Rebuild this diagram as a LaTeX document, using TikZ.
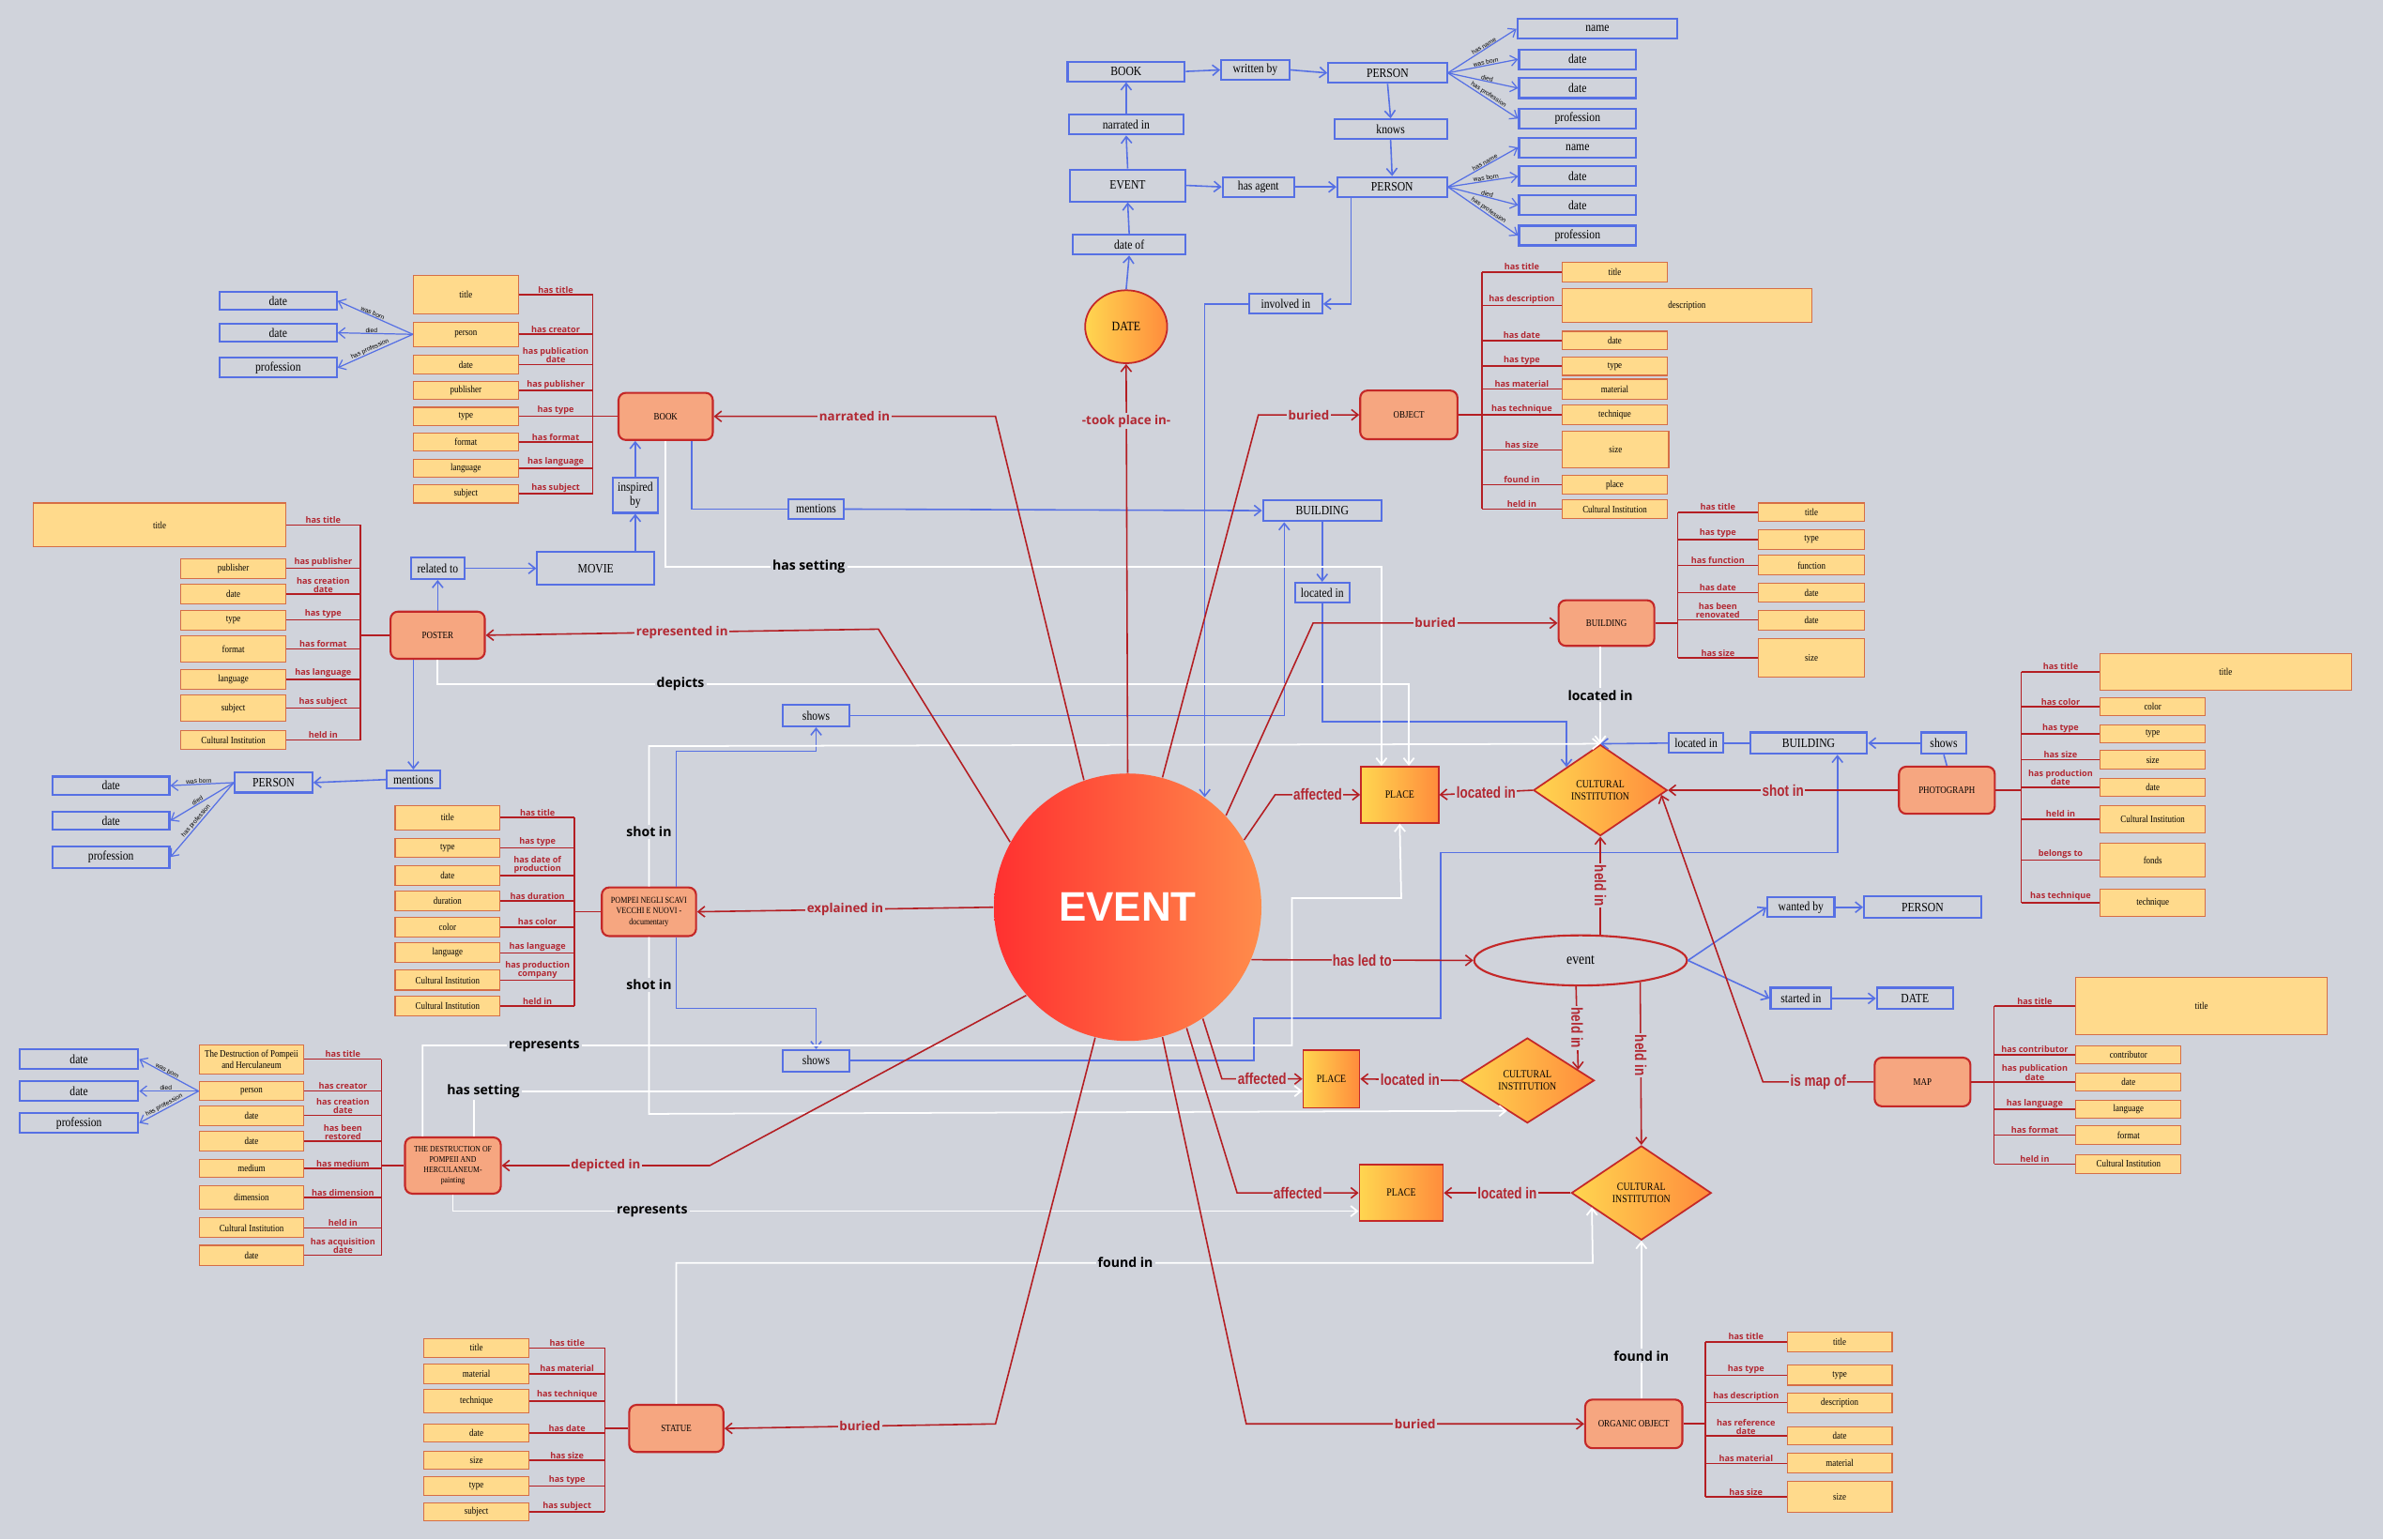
\documentclass[tikz,border=0pt]{standalone}
\usepackage{fontspec}
\setmainfont{Liberation Serif}[FakeStretch=0.85]
\newfontfamily\labf{Open Sans}
\newfontfamily\narf{Liberation Sans}[FakeStretch=0.8]
\newfontfamily\sansf{Liberation Sans}
\usetikzlibrary{shapes.geometric,arrows.meta,calc}
\newlength\uu \setlength\uu{0.016193cm}
\definecolor{bgc}{RGB}{208,211,219}
\definecolor{bluec}{RGB}{86,112,228}
\definecolor{attf}{RGB}{255,218,140}
\definecolor{attd}{RGB}{214,110,70}
\definecolor{entf}{RGB}{246,166,128}
\definecolor{entd}{RGB}{196,40,40}
\definecolor{redl}{RGB}{180,30,35}
\definecolor{labc}{RGB}{178,40,50}
\definecolor{gy}{RGB}{255,214,80}
\definecolor{go}{RGB}{255,140,60}
\definecolor{er}{RGB}{255,48,48}
\definecolor{eo}{RGB}{255,140,75}
\tikzset{
 blu/.style={draw=bluec,line width=0.6pt,inner sep=0pt,align=center,font=\fontsize{3.9}{4.3}\selectfont},
 att/.style={draw=attd,fill=attf,line width=0.3pt,inner sep=0pt,align=center,font=\fontsize{3}{3.3}\selectfont},
 ent/.style={draw=entd,fill=entf,line width=0.6pt,rounded corners=2.2pt,inner sep=0pt,align=center,font=\fontsize{3}{3.5}\selectfont},
 grad/.style={draw=entd,line width=0.5pt,left color=gy,right color=go,inner sep=0pt,align=center,font=\fontsize{3.3}{3.7}\selectfont},
 rl/.style={draw=redl,line width=0.45pt},
 rar/.style={rl,-{Straight Barb[length=2pt,width=3.2pt]}},
 bl/.style={draw=bluec,line width=0.45pt},
 barr/.style={bl,-{Straight Barb[length=2pt,width=3.2pt]}},
 wl/.style={draw=white,line width=0.5pt},
 war/.style={wl,-{Straight Barb[length=2pt,width=3.2pt]}},
 alab/.style={font=\labf\bfseries\fontsize{2.6}{2.6}\selectfont,text=labc,align=center,inner sep=0.3pt,anchor=south},
 rlab/.style={font=\labf\bfseries\fontsize{3.8}{4}\selectfont,text=labc,fill=bgc,inner sep=0.5pt},
 nlab/.style={font=\narf\bfseries\fontsize{4.8}{5}\selectfont,text=labc,fill=bgc,inner sep=0.4pt},
 wlab/.style={font=\labf\bfseries\fontsize{4}{4.2}\selectfont,text=black,fill=bgc,inner sep=0.6pt},
 flab/.style={font=\sansf\fontsize{1.9}{2}\selectfont,sloped,above,inner sep=0.1pt,pos=0.55},
}
\begin{document}
\begin{tikzpicture}[x=0.016193cm,y=-0.016193cm]
\fill[bgc] (0,0) rectangle (1568,1013);
\useasboundingbox (0,0) rectangle (1568,1013);

% ---------- central nodes ----------
\node[circle,minimum size=176\uu,left color=er,right color=eo,inner sep=0pt,text=white,font=\sansf\bfseries\fontsize{12.5}{12.5}\selectfont] (ev) at (742,597) {EVENT};
\node[ellipse,grad,minimum width=54\uu,minimum height=48\uu,font=\fontsize{4}{4}\selectfont] (dt) at (741,215) {DATE};
\node[grad,minimum width=51\uu,minimum height=37\uu] (pl1) at (921,523) {PLACE};
\node[grad,minimum width=37\uu,minimum height=38\uu] (pl2) at (876,710) {PLACE};
\node[grad,minimum width=55\uu,minimum height=37\uu] (pl3) at (922,785) {PLACE};
\node[grad,diamond,shape aspect=1.47,minimum width=88\uu,minimum height=60\uu] (ci1) at (1053,520) {CULTURAL\\INSTITUTION};
\node[grad,diamond,shape aspect=1.57,minimum width=88\uu,minimum height=56\uu] (ci2) at (1005,711) {CULTURAL\\INSTITUTION};
\node[grad,diamond,shape aspect=1.48,minimum width=92\uu,minimum height=62\uu] (ci3) at (1080,785) {CULTURAL\\INSTITUTION};
\node[ellipse,draw=entd,line width=0.6pt,minimum width=140\uu,minimum height=33\uu,inner sep=0pt,font=\fontsize{4.6}{5}\selectfont] (evt) at (1040,632) {event};

% ---------- entities ----------
\node[ent,minimum width=62\uu,minimum height=31\uu] (bk) at (438,274) {BOOK};
\node[ent,minimum width=62\uu,minimum height=31\uu] (ps) at (288,418) {POSTER};
\node[ent,minimum width=62\uu,minimum height=32\uu,font=\fontsize{2.7}{3.3}\selectfont] (doc) at (427,600) {POMPEI NEGLI SCAVI\\VECCHI E NUOVI -\\documentary};
\node[ent,minimum width=63\uu,minimum height=37\uu,font=\fontsize{2.6}{3.2}\selectfont] (pt) at (298,767) {THE DESTRUCTION OF\\POMPEII AND\\HERCULANEUM-\\painting};
\node[ent,minimum width=62\uu,minimum height=31\uu] (st) at (445,940) {STATUE};
\node[ent,minimum width=64\uu,minimum height=32\uu] (obj) at (927,273) {OBJECT};
\node[ent,minimum width=63\uu,minimum height=30\uu] (bld3) at (1057,410) {BUILDING};
\node[ent,minimum width=63\uu,minimum height=31\uu] (ph) at (1281,520) {PHOTOGRAPH};
\node[ent,minimum width=63\uu,minimum height=32\uu] (mp) at (1265,712) {MAP};
\node[ent,minimum width=64\uu,minimum height=32\uu] (org) at (1075,937) {ORGANIC OBJECT};

% ---------- blue nodes ----------
\node[blu,minimum width=77\uu,minimum height=13\uu] (b1) at (741,47) {BOOK};
\node[blu,minimum width=45\uu,minimum height=13\uu] (wb1) at (826,46) {written by};
\node[blu,minimum width=78\uu,minimum height=13\uu] (p1) at (913,48) {PERSON};
\node[blu,minimum width=74\uu,minimum height=13\uu] (k) at (915,85) {knows};
\node[blu,minimum width=75\uu,minimum height=13\uu] (na) at (741,82) {narrated in};
\node[blu,minimum width=76\uu,minimum height=21\uu] (e1) at (742,122) {EVENT};
\node[blu,minimum width=47\uu,minimum height=13\uu] (ha) at (828,123) {has agent};
\node[blu,minimum width=72\uu,minimum height=13\uu] (p2) at (916,123) {PERSON};
\node[blu,minimum width=74\uu,minimum height=13\uu] (do) at (743,161) {date of};
\node[blu,minimum width=48\uu,minimum height=13\uu] (inv) at (846,200) {involved in};
\node[blu,minimum width=105\uu,minimum height=13\uu] (n1) at (1051,19) {name};
\node[blu,minimum width=77\uu,minimum height=13\uu] (d1) at (1038,39) {date};
\node[blu,minimum width=77\uu,minimum height=13\uu] (d2) at (1038,58) {date};
\node[blu,minimum width=77\uu,minimum height=13\uu] (pf1) at (1038,78) {profession};
\node[blu,minimum width=77\uu,minimum height=13\uu] (n2) at (1038,97) {name};
\node[blu,minimum width=77\uu,minimum height=13\uu] (d3) at (1038,116) {date};
\node[blu,minimum width=77\uu,minimum height=13\uu] (d4) at (1038,135) {date};
\node[blu,minimum width=77\uu,minimum height=13\uu] (pf2) at (1038,155) {profession};
\node[blu,minimum width=77\uu,minimum height=12\uu] (bd1) at (183,198) {date};
\node[blu,minimum width=77\uu,minimum height=12\uu] (bd2) at (183,219) {date};
\node[blu,minimum width=77\uu,minimum height=13\uu] (bpf) at (183,242) {profession};
\node[blu,minimum width=30\uu,minimum height=23\uu] (ib) at (418,326) {inspired\\by};
\node[blu,minimum width=77\uu,minimum height=22\uu] (mv) at (392,374) {MOVIE};
\node[blu,minimum width=35\uu,minimum height=14\uu] (rt) at (288,374) {related to};
\node[blu,minimum width=35\uu,minimum height=12\uu] (mn2) at (272,513) {mentions};
\node[blu,minimum width=51\uu,minimum height=13\uu] (pp) at (180,515) {PERSON};
\node[blu,minimum width=77\uu,minimum height=12\uu] (pd1) at (73,517) {date};
\node[blu,minimum width=77\uu,minimum height=12\uu] (pd2) at (73,540) {date};
\node[blu,minimum width=77\uu,minimum height=14\uu] (ppf) at (73,564) {profession};
\node[blu,minimum width=36\uu,minimum height=13\uu] (mn1) at (537,335) {mentions};
\node[blu,minimum width=78\uu,minimum height=14\uu] (bld) at (870,336) {BUILDING};
\node[blu,minimum width=36\uu,minimum height=13\uu] (li1) at (870,390) {located in};
\node[blu,minimum width=44\uu,minimum height=14\uu] (sh1) at (537,471) {shows};
\node[blu,minimum width=44\uu,minimum height=14\uu] (sh2) at (537,698) {shows};
\node[blu,minimum width=36\uu,minimum height=13\uu] (li2) at (1116,489) {located in};
\node[blu,minimum width=77\uu,minimum height=14\uu] (bld2) at (1190,489) {BUILDING};
\node[blu,minimum width=30\uu,minimum height=14\uu] (sh3) at (1279,489) {shows};
\node[blu,minimum width=44\uu,minimum height=13\uu] (wb) at (1185,597) {wanted by};
\node[blu,minimum width=77\uu,minimum height=14\uu] (p3) at (1265,597) {PERSON};
\node[blu,minimum width=40\uu,minimum height=14\uu] (si) at (1185,657) {started in};
\node[blu,minimum width=50\uu,minimum height=14\uu] (d5) at (1260,657) {DATE};
\node[blu,minimum width=78\uu,minimum height=13\uu] (td1) at (52,697) {date};
\node[blu,minimum width=78\uu,minimum height=13\uu] (td2) at (52,718) {date};
\node[blu,minimum width=78\uu,minimum height=13\uu] (tpf) at (52,739) {profession};

% ---------- attribute groups ----------
\coordinate (bkbar) at (390,0);
\foreach \i/\cx/\w/\y/\h/\tx/\lb in {
1/306.5/69/194/25/title/has title,
2/306.5/69/220/16/person/has creator,
3/306.5/69/240/12/date/{has publication\\date},
4/306.5/69/257/12/publisher/has publisher,
5/306.5/69/274/12/type/has type,
6/306.5/69/291/12/format/has format,
7/306.5/69/308/12/language/has language,
8/306.5/69/325/12/subject/has subject}{
\node[att,minimum width=\w\uu,minimum height=\h\uu] (bka\i) at (\cx,\y) {\tx};
\draw[rl] (bka\i.east) -- node[alab]{\lb} (bka\i.east -| bkbar);}
\draw[rl] (bka1.east -| bkbar) -- (bka8.east -| bkbar);
\draw[rl] (bk.west) -- (bk.west -| bkbar);

\coordinate (psbar) at (237,0);
\foreach \i/\cx/\w/\y/\h/\tx/\lb in {
1/105/166/345.5/29/title/has title,
2/153.5/69/374/13/publisher/has publisher,
3/153.5/69/391/13/date/{has creation\\date},
4/153.5/69/408/13/type/has type,
5/153.5/69/427/17/format/has format,
6/153.5/69/447/13/language/has language,
7/153.5/69/466/17/subject/has subject,
8/153.5/69/487/12/Cultural Institution/held in}{
\node[att,minimum width=\w\uu,minimum height=\h\uu] (psa\i) at (\cx,\y) {\tx};
\draw[rl] (psa\i.east) -- node[alab]{\lb} (psa\i.east -| psbar);}
\draw[rl] (psa1.east -| psbar) -- (psa8.east -| psbar);
\draw[rl] (ps.west) -- (ps.west -| psbar);

\coordinate (docbar) at (378,0);
\foreach \i/\y/\h/\tx/\lb in {
1/538/16/title/has title,
2/558/12/type/has type,
3/576/13/date/{has date of\\production},
4/593/13/duration/has duration,
5/610/13/color/has color,
6/627/13/language/has language,
7/645/13/Cultural Institution/{has production\\company},
8/662/13/Cultural Institution/held in}{
\node[att,minimum width=69\uu,minimum height=\h\uu] (dca\i) at (294.5,\y) {\tx};
\draw[rl] (dca\i.east) -- node[alab]{\lb} (dca\i.east -| docbar);}
\draw[rl] (dca1.east -| docbar) -- (dca8.east -| docbar);
\draw[rl] (doc.west) -- (doc.west -| docbar);

\coordinate (ptbar) at (251,0);
\foreach \i/\y/\h/\tx/\lb in {
1/697/19/{The Destruction of Pompeii\\and Herculaneum}/has title,
2/718/12/person/has creator,
3/734/13/date/{has creation\\date},
4/751/13/date/{has been\\restored},
5/769/12/medium/has medium,
6/788/15/dimension/has dimension,
7/808/13/Cultural Institution/held in,
8/826/13/date/{has acquisition\\date}}{
\node[att,minimum width=69\uu,minimum height=\h\uu] (pta\i) at (165.5,\y) {\tx};
\draw[rl] (pta\i.east) -- node[alab]{\lb} (pta\i.east -| ptbar);}
\draw[rl] (pta1.east -| ptbar) -- (pta8.east -| ptbar);
\draw[rl] (pt.west) -- (pt.west -| ptbar);

\coordinate (stbar) at (398,0);
\foreach \i/\y/\h/\tx/\lb in {
1/887/12/title/has title,
2/904/13/material/has material,
3/922/16/technique/has technique,
4/943/12/date/has date,
5/961/12/size/has size,
6/978/12/type/has type,
7/995/12/subject/has subject}{
\node[att,minimum width=69\uu,minimum height=\h\uu] (sta\i) at (313.5,\y) {\tx};
\draw[rl] (sta\i.east) -- node[alab]{\lb} (sta\i.east -| stbar);}
\draw[rl] (sta1.east -| stbar) -- (sta7.east -| stbar);
\draw[rl] (st.west) -- (st.west -| stbar);

\coordinate (objbar) at (975,0);
\foreach \i/\cx/\w/\y/\h/\tx/\lb in {
1/1062.5/69/179/13/title/has title,
2/1110/164/201/22/description/has description,
3/1062.5/69/224/12/date/has date,
4/1062.5/69/241/12/type/has type,
5/1062.5/69/256/13/material/has material,
6/1062.5/69/273/13/technique/has technique,
7/1063/70/296/24/size/has size,
8/1062.5/69/319/12/place/found in,
9/1062.5/69/335/12/Cultural Institution/held in}{
\node[att,minimum width=\w\uu,minimum height=\h\uu] (oba\i) at (\cx,\y) {\tx};
\draw[rl] (oba\i.west -| objbar) -- node[alab]{\lb} (oba\i.west);}
\draw[rl] (oba1.west -| objbar) -- (oba9.west -| objbar);
\draw[rl] (obj.east) -- (obj.east -| objbar);

\coordinate (bdbar) at (1104,0);
\foreach \i/\y/\h/\tx/\lb in {
1/337/12/title/has title,
2/355/13/type/has type,
3/372/13/function/has function,
4/390/12/date/has date,
5/408/13/date/{has been\\renovated},
6/433/25/size/has size}{
\node[att,minimum width=70\uu,minimum height=\h\uu] (bda\i) at (1192,\y) {\tx};
\draw[rl] (bda\i.west -| bdbar) -- node[alab]{\lb} (bda\i.west);}
\draw[rl] (bda1.west -| bdbar) -- (bda6.west -| bdbar);
\draw[rl] (bld3.east) -- (bld3.east -| bdbar);

\coordinate (phbar) at (1330,0);
\foreach \i/\cx/\w/\y/\h/\tx/\lb in {
1/1464.5/165/442/24/title/has title,
2/1416.5/69/465/12/color/has color,
3/1416.5/69/483/12/type/has type,
4/1416.5/69/500/12/size/has size,
5/1416.5/69/518/12/date/{has production\\date},
6/1416.5/69/539/18/Cultural Institution/held in,
7/1416.5/69/566/22/fonds/belongs to,
8/1416.5/69/594/18/technique/has technique}{
\node[att,minimum width=\w\uu,minimum height=\h\uu] (pha\i) at (\cx,\y) {\tx};
\draw[rl] (pha\i.west -| phbar) -- node[alab]{\lb} (pha\i.west);}
\draw[rl] (pha1.west -| phbar) -- (pha8.west -| phbar);
\draw[rl] (ph.east) -- (ph.east -| phbar);

\coordinate (mpbar) at (1312,0);
\foreach \i/\cx/\w/\y/\h/\tx/\lb in {
1/1448.5/165/662/38/title/has title,
2/1400.5/69/694/12/contributor/has contributor,
3/1400.5/69/712/12/date/{has publication\\date},
4/1400.5/69/730/12/language/has language,
5/1400.5/69/747/12/format/has format,
6/1400.5/69/766/12/Cultural Institution/held in}{
\node[att,minimum width=\w\uu,minimum height=\h\uu] (mpa\i) at (\cx,\y) {\tx};
\draw[rl] (mpa\i.west -| mpbar) -- node[alab]{\lb} (mpa\i.west);}
\draw[rl] (mpa1.west -| mpbar) -- (mpa6.west -| mpbar);
\draw[rl] (mp.east) -- (mp.east -| mpbar);

\coordinate (orbar) at (1122,0);
\foreach \i/\y/\h/\tx/\lb in {
1/883/13/title/has title,
2/905/13/type/has type,
3/923/13/description/has description,
4/945/12/date/{has reference\\date},
5/963/13/material/has material,
6/985/20/size/has size}{
\node[att,minimum width=69\uu,minimum height=\h\uu] (ora\i) at (1210.5,\y) {\tx};
\draw[rl] (ora\i.west -| orbar) -- node[alab]{\lb} (ora\i.west);}
\draw[rl] (ora1.west -| orbar) -- (ora6.west -| orbar);
\draw[rl] (org.east) -- (org.east -| orbar);

% ---------- blue connectors ----------
\draw[barr] (b1.east) -- (wb1.west);
\draw[barr] (wb1.east) -- (p1.west);
\draw[barr] (p1.south) -- (k.north);
\draw[barr] (k.south) -- (p2.north);
\draw[barr] (na.north) -- (b1.south);
\draw[barr] (e1.north) -- (na.south);
\draw[barr] (do.north) -- (e1.south);
\draw[barr] (dt.north) -- (do.south);
\draw[barr] (e1.east) -- (ha.west);
\draw[barr] (ha.east) -- (p2.west);
\draw[barr] ([xshift=-27\uu]p2.south) |- (inv.east);
\draw[barr] (inv.west) -| (ev.55);
\foreach \tg/\lb in {n1/has name,d1/was born,d2/died,pf1/has profession}
  \draw[barr,line width=0.35pt] (p1.east) -- node[flab]{\lb} (\tg.west);
\foreach \tg/\lb in {n2/has name,d3/was born,d4/died,pf2/has profession}
  \draw[barr,line width=0.35pt] (p2.east) -- node[flab]{\lb} (\tg.west);
\foreach \tg/\lb in {bd1/was born,bd2/died,bpf/has profession}
  \draw[barr,line width=0.35pt] (bka2.west) -- node[flab]{\lb} (\tg.east);
\foreach \tg/\lb in {pd1/was born,pd2/died,ppf/has profession}
  \draw[barr,line width=0.35pt] (pp.west) -- node[flab]{\lb} (\tg.east);
\foreach \tg/\lb in {td1/was born,td2/died,tpf/has profession}
  \draw[barr,line width=0.35pt] (pta2.west) -- node[flab]{\lb} (\tg.east);
\draw[barr] ([xshift=26\uu]mv.north) -- (ib.south);
\draw[barr] (ib.north) -- (ib.north |- bk.south);
\draw[barr] (rt.east) -- (mv.west);
\draw[barr] (ps.north) -- (rt.south);
\draw[barr] ([xshift=-16\uu]ps.south) -- (mn2.north);
\draw[barr] (mn2.west) -- (pp.east);
\draw[bl] ([xshift=17\uu]bk.south) |- (mn1.west);
\draw[barr] (mn1.east) -- (bld.west);
\draw[barr] (bld.south) -- (li1.north);
\draw[barr] (li1.south) -- (870,475) -| (ci1.north west);
\draw[barr] ([xshift=18\uu]doc.north) -- ++(0,-89) -| (sh1.south);
\draw[barr] ([xshift=18\uu]doc.south) -- ++(0,47) -| (sh2.north);
\draw[barr] (sh1.east) -| ([xshift=-25\uu]bld.south);
\draw[barr] (sh2.east) -- (825,698) -- (825,670) -- (948,670) -- (948,561) -- (1209,561) -- ([xshift=19\uu]bld2.south);
\draw[bl] (ph.north) -- (sh3.south);
\draw[barr] (sh3.west) -- (bld2.east);
\draw[bl] (bld2.west) -- (li2.east);
\draw[barr] (li2.west) -- (ci1.north);
\draw[barr] (evt.east) -- (wb.west);
\draw[barr] (wb.east) -- (p3.west);
\draw[barr] (evt.east) -- (si.west);
\draw[barr] (si.east) -- (d5.west);

% ---------- white connectors ----------
\draw[war] (bk.south) -- (438,373) -- node[wlab,pos=0.2]{has setting} (909,373) -- ([xshift=-12\uu]pl1.north);
\draw[war] (ps.south) -- (288,450) -- node[wlab,pos=0.25]{depicts} (927,450) -- ([xshift=6\uu]pl1.north);
\draw[war] (doc.north) -- node[wlab,pos=0.39]{shot in} (427,491) -- (ci1.north);
\draw[war] (doc.south) -- node[wlab,pos=0.27]{shot in} (427,733) -- ($(ci2.west)!0.7!(ci2.south)$);
\draw[war] ([xshift=-20\uu]pt.north) -- (278,688) -- node[wlab,pos=0.14]{represents} (850,688) -- (850,591) -- (922,591) -- (pl1.south);
\draw[war] ([xshift=14\uu]pt.north) -- (312,718) -- ([yshift=-8\uu]pl2.west);
\node[wlab] (hslab) at (318,718) {has setting};
\draw[war] (pt.south) -- (298,797) -- node[wlab,pos=0.22]{represents} ([yshift=-12\uu]pl3.west);
\draw[war] (st.north) -- (445,831) -- node[wlab,pos=0.49]{found in} (1048,831) -- ($(ci3.west)!0.3!(ci3.south)$);
\draw[war] ([xshift=5\uu]org.north) -- node[wlab,pos=0.27]{found in} (ci3.south);
\draw[war] ([xshift=-4\uu]bld3.south) -- node[wlab]{located in} (ci1.north);

% ---------- red connectors ----------
\draw[rar] (ev.109) -- (655,274) -- node[rlab]{narrated in} (bk.east);
\draw[rar] (ev.north) -- node[rlab,pos=0.86]{-took place in-} (dt.south);
\draw[rar] (ev.75) -- (828,273) -- node[rlab]{buried} (obj.west);
\draw[rar] (ev.43) -- (864,410) -- node[rlab]{buried} (bld3.west);
\draw[rar] (ev.151) -- (578,414) -- node[rlab]{represented in} (ps.east);
\draw[rar] (ev.west) -- node[rlab]{explained in} (doc.east);
\draw[rar] (ev.221) -- (467,767) -- node[rlab]{depicted in} (pt.east);
\draw[rar] (ev.256) -- (655,937) -- node[rlab]{buried} (st.east);
\draw[rar] (ev.285) -- (820,937) -- node[rlab]{buried} (org.west);
\draw[rar] (ev.296) -- (814,785) -- node[nlab]{affected} (pl3.west);
\draw[rar] (ev.304) -- (804,710) -- node[nlab]{affected} (pl2.west);
\draw[rar] (ev.30) -- (839,523) -- node[nlab]{affected} (pl1.west);
\draw[rar] (ev.337) -- node[nlab]{has led to} (evt.west);
\draw[rar] (ci1.west) -- node[nlab]{located in} (pl1.east);
\draw[rar] (ci2.west) -- node[nlab]{located in} (pl2.east);
\draw[rar] (ci3.west) -- node[nlab]{located in} (pl3.east);
\draw[rar] (ph.west) -- node[nlab]{shot in} (ci1.east);
\draw[rar] ([xshift=13\uu]evt.north) -- node[nlab,rotate=-90]{held in} (ci1.south);
\draw[rar] ([xshift=-3\uu]evt.south) -- node[nlab,rotate=-90]{held in} ($(ci2.north)!0.75!(ci2.east)$);
\draw[rar] (evt.-20) -- node[nlab,rotate=-90,pos=0.45]{held in} (ci3.north);
\draw[rar] (mp.west) -- node[nlab]{is map of} (1160,712) -- ($(ci1.east)!0.1!(ci1.south)$);
\end{tikzpicture}
\end{document}
